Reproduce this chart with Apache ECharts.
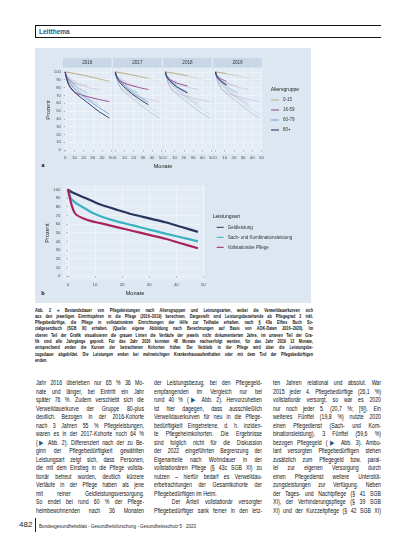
<!DOCTYPE html>
<html lang="de">
<head>
<meta charset="utf-8">
<script src="https://cdn.jsdelivr.net/npm/echarts@6/dist/echarts.min.js"></script>
<style>
  html, body { margin: 0; padding: 0; background: #fff; }
  body { width: 413px; height: 550px; position: relative; overflow: hidden;
         font-family: "Liberation Sans", Arial, sans-serif; color: #111; }
  #kopf { position: absolute; left: 35px; top: 25px; width: 345px; height: 11px;
          border: 1px solid #111; border-right: none; }
  #kopf span { position: absolute; left: 3px; top: 1.5px; font-size: 6.5px; font-weight: bold; color: #1d5a8a; }
  #abb { position: absolute; left: 35px; top: 48px; width: 276px; height: 255px; }
  .cap { position: absolute; left: 35px; top: 307.5px; width: 339px; font-size: 4.6px; line-height: 6.3px;
         font-weight: bold; transform: scaleX(0.82); transform-origin: 0 0; }
  .col { position: absolute; top: 379px; width: 135px; font-size: 6.5px; line-height: 8.5px;
         transform: scaleX(0.8); transform-origin: 0 0; }
  .cap div, .col div { text-align: justify; text-align-last: justify; }
  .cap div.l, .col div.l { text-align-last: left; }
  .pfeil { color: #1d5a8a; }
  #seite { position: absolute; left: 19px; top: 520px; font-size: 8px; color: #222; }
  #strich { position: absolute; left: 35px; top: 518px; width: 1px; height: 14px; background: #222; }
  #fuss { position: absolute; left: 39px; top: 524px; font-size: 4.5px; color: #222; }
</style>
</head>
<body>
<div id="kopf"><span>Leitthema</span></div>
<div id="abb"></div>

<div class="cap">
  <div>Abb. 2 <span class="pfeil">◂</span> Bestandsdauer von Pflegeleistungen nach Altersgruppen und Leistungsarten, wobei die Verweildauerkurven sich</div>
  <div>aus den jeweiligen Eintrittsjahren in die Pflege (2016–2019) berechnen. Dargestellt sind Leistungsbeziehende ab Pflegegrad 2 inkl.</div>
  <div>Pflegebedürftige, die Pflege in vollstationären Einrichtungen der Hilfe zur Teilhabe erhalten, nach § 43a Elftes Buch So-</div>
  <div>zialgesetzbuch (SGB XI) erhalten. (Quelle: eigene Abbildung nach Berechnungen auf Basis von AOK-Daten 2016–2020). Im</div>
  <div>oberen Teil der Grafik visualisieren die grauen Linien die Verläufe der jeweils nicht dokumentierten Jahre, im unteren Teil der Gra-</div>
  <div>fik sind alle Jahrgänge gepoolt. Für das Jahr 2016 konnten 48 Monate nachverfolgt werden, für das Jahr 2019 12 Monate,</div>
  <div>entsprechend enden die Kurven der betrachteten Kohorten früher. Der Verbleib in der Pflege wird über die Leistungsbe-</div>
  <div>zugsdauer abgebildet. Die Leistungen enden bei mehrwöchigen Krankenhausaufenthalten oder mit dem Tod der Pflegebedürftigen</div>
  <div class="l">enden.</div>
</div>

<div class="col" style="left:36px">
  <div>Jahr 2016 überleben nur 65 % 36 Mo-</div>
  <div>nate und länger, bei Eintritt ein Jahr</div>
  <div>später 76 %. Zudem verschiebt sich die</div>
  <div>Verweildauerkurve der Gruppe 80-plus</div>
  <div>deutlich. Bezogen in der 2016-Kohorte</div>
  <div>nach 3 Jahren 55 % Pflegeleistungen,</div>
  <div>waren es in der 2017-Kohorte noch 64 %</div>
  <div>(<span class="pfeil">▶</span> Abb. 2). Differenziert nach der zu Be-</div>
  <div>ginn der Pflegebedürftigkeit gewählten</div>
  <div>Leistungsart zeigt sich, dass Personen,</div>
  <div>die mit dem Einstieg in die Pflege vollsta-</div>
  <div>tionär betreut wurden, deutlich kürzere</div>
  <div>Verläufe in der Pflege haben als jene</div>
  <div>mit reiner Geldleistungsversorgung.</div>
  <div>So endet bei rund 60 % der Pflege-</div>
  <div>heimbewohnenden nach 36 Monaten</div>
</div>

<div class="col" style="left:154px">
  <div>der Leistungsbezug, bei den Pflegegeld-</div>
  <div>empfangenden im Vergleich nur bei</div>
  <div>rund 40 % (<span class="pfeil">▶</span> Abb. 2). Hervorzuheben</div>
  <div>ist hier dagegen, dass ausschließlich</div>
  <div>Verweildauerkurven für neu in die Pflege-</div>
  <div>bedürftigkeit Eingetretene, d. h. inziden-</div>
  <div>te Pflegeheimkohorten. Die Ergebnisse</div>
  <div>sind folglich nicht für die Diskussion</div>
  <div>der 2022 eingeführten Begrenzung der</div>
  <div>Eigenanteile nach Wohndauer in der</div>
  <div>vollstationären Pflege (§ 43c SGB XI) zu</div>
  <div>nutzen – hierfür bedarf es Verweildau-</div>
  <div>erbetrachtungen der Gesamtkohorte der</div>
  <div class="l">Pflegebedürftigen im Heim.</div>
  <div>&nbsp;&nbsp;&nbsp;Der Anteil vollstationär versorgter</div>
  <div>Pflegebedürftiger sank ferner in den letz-</div>
</div>

<div class="col" style="left:273px">
  <div>ten Jahren relational und absolut. War</div>
  <div>2015 jeder 4. Pflegebedürftige (26,1 %)</div>
  <div>vollstationär versorgt, so war es 2020</div>
  <div>nur noch jeder 5. (20,7 %; [9]). Ein</div>
  <div>weiteres Fünftel (19,8 %) nutzte 2020</div>
  <div>einen Pflegedienst (Sach- und Kom-</div>
  <div>binationsleistung), 3 Fünftel (59,6 %)</div>
  <div>bezogen Pflegegeld (<span class="pfeil">▶</span> Abb. 3). Ambu-</div>
  <div>lant versorgten Pflegebedürftigen stehen</div>
  <div>zusätzlich zum Pflegegeld bzw. paral-</div>
  <div>lel zur eigenen Versorgung durch</div>
  <div>einen Pflegedienst weitere Unterstüt-</div>
  <div>zungsleistungen zur Verfügung. Neben</div>
  <div>der Tages- und Nachtpflege (§ 41 SGB</div>
  <div>XI), der Verhinderungspflege (§ 39 SGB</div>
  <div>XI) und der Kurzzeitpflege (§ 42 SGB XI)</div>
</div>

<div id="seite">482</div>
<div id="strich"></div>
<div id="fuss">Bundesgesundheitsblatt - Gesundheitsforschung - Gesundheitsschutz 5 · 2023</div>

<script>
// panel a: facets per entry year, lines per age group
const kohorten = ['2016', '2017', '2018', '2019'];
const altersgruppen = ['0-15', '16-59', '60-79', '80+'];
const farbenA = ['#bcae86', '#953c88', '#6b9fd0', '#1c2a52'];
const monateA = [0, 1, 3, 6, 12, 24, 36, 48];

// rows follow altersgruppen, columns follow monateA (shorter for later cohorts)
const kohorte2016 = [
  [100, 99.8, 99.4, 98.8, 97.5, 94.6, 91.3, 88],
  [100, 93, 86, 80, 73, 68.5, 65, 62],
  [100, 95, 89, 84, 76, 65, 55, 46],
  [100, 94, 86, 79, 72, 61, 50, 41]
];
const kohorte2017 = [
  [100, 99.8, 99.4, 98.8, 97.6, 94.8, 91.8],
  [100, 95, 91, 88, 84.5, 80.5, 77.5],
  [100, 96, 91, 87, 80, 70, 61],
  [100, 95, 90, 85, 78, 67, 58]
];
const kohorte2018 = [
  [100, 99.8, 99.4, 98.9, 97.8, 95.2],
  [100, 96, 92.5, 89.5, 86, 82],
  [100, 96, 92, 88, 82, 74],
  [100, 95, 91, 87, 81, 73]
];
const kohorte2019 = [
  [100, 99.8, 99.5, 99, 98],
  [100, 96.5, 93.5, 91, 88],
  [100, 96, 92.5, 89, 84],
  [100, 95.5, 92, 88, 83]
];
const kohortenDaten = [kohorte2016, kohorte2017, kohorte2018, kohorte2019];

// panel b: pooled cohorts by type of benefit
const leistungsarten = ['Geldleistung', 'Sach- und Kombinationsleistung', 'Vollstationäre Pflege'];
const farbenB = ['#26345e', '#3ab2c2', '#a8235a'];
const monateB = [0, 1, 2, 3, 6, 9, 12, 18, 24, 30, 36, 42, 48];
const geldleistung = [100, 97.5, 96, 94.5, 90.5, 86.5, 82.5, 76.5, 71, 66.5, 62, 56.5, 51];
const sachKombi = [100, 90, 86.5, 84, 78.5, 73, 69, 63, 58.5, 53.5, 49, 44.5, 40];
const vollstationaer = [100, 86, 76, 71, 66, 63, 61, 56.5, 52, 47.5, 43, 37.5, 32];
const werteB = [geldleistung, sachKombi, vollstationaer];

const xTicks = [0, 10, 20, 30, 40, 50];
const yTicks = [0, 10, 20, 30, 40, 50, 60, 70, 80, 90, 100];

var chart = echarts.init(document.getElementById('abb'));

const facetLeft = 28, facetW = 48.5, facetStep = 50.1;
var grids = [], xAxes = [], yAxes = [], series = [], graphics = [];
const labelColor = '#4d4d4d';
const font = 'Liberation Sans, Arial, sans-serif';

function punkte(werte, monate) {
  return werte.map(function (v, i) { return [monate[i], v]; });
}

function achseX(idx, min, max) {
  return {
    type: 'value', gridIndex: idx, min: min, max: max,
    axisLine: { show: false },
    axisTick: { show: true, length: 1.5, customValues: xTicks, lineStyle: { color: '#666', width: 0.5 } },
    axisLabel: { customValues: xTicks, fontSize: 4.3, color: labelColor, margin: 2, fontFamily: font },
    splitLine: { show: true, lineStyle: { color: '#f3f7fb', width: 0.6 } }
  };
}
function achseY(idx, mitLabel) {
  return {
    type: 'value', gridIndex: idx, min: -5, max: 105,
    axisLine: { show: false },
    axisTick: { show: mitLabel, length: 1.5, customValues: yTicks, lineStyle: { color: '#666', width: 0.5 } },
    axisLabel: { show: mitLabel, customValues: yTicks, fontSize: 4.3, color: labelColor, margin: 2, fontFamily: font },
    splitLine: { show: true, lineStyle: { color: '#f3f7fb', width: 0.6 } }
  };
}

kohorten.forEach(function (jahr, f) {
  var left = facetLeft + f * facetStep;
  grids.push({ left: left, top: 20, width: facetW, height: 86, show: true,
               backgroundColor: '#e3ecf5', borderWidth: 0 });
  xAxes.push(achseX(f, -2.4, 50.4));
  yAxes.push(achseY(f, f === 0));
  graphics.push({ type: 'rect', shape: { x: left, y: 10, width: facetW, height: 9.5 },
                  style: { fill: '#c8d7e8' } });
  graphics.push({ type: 'text', x: left + facetW / 2, y: 14.8,
                  style: { text: jahr, fontSize: 4.6, fill: '#333', align: 'center', verticalAlign: 'middle', fontFamily: font } });

  // grey-ish lines of the other entry years
  kohortenDaten.forEach(function (daten, k) {
    if (k === f) return;
    daten.forEach(function (werte, g) {
      series.push({
        type: 'line', name: 'andere ' + altersgruppen[g], xAxisIndex: f, yAxisIndex: f,
        data: punkte(werte, monateA), symbol: 'none', smooth: 0.3, silent: true, z: 1,
        lineStyle: { color: farbenA[g], width: 0.6, opacity: 0.3 }
      });
    });
  });
  kohortenDaten[f].forEach(function (werte, g) {
    series.push({
      type: 'line', name: altersgruppen[g], xAxisIndex: f, yAxisIndex: f,
      data: punkte(werte, monateA), symbol: 'none', smooth: 0.3, z: 3,
      color: farbenA[g], lineStyle: { color: farbenA[g], width: 0.9 }
    });
  });
});

// panel b
grids.push({ left: 27.5, top: 137, width: 142.5, height: 95.4, show: true,
             backgroundColor: '#e3ecf5', borderWidth: 0 });
xAxes.push(achseX(4, -2, 50.6));
yAxes.push(achseY(4, true));
leistungsarten.forEach(function (name, i) {
  series.push({
    type: 'line', name: name, xAxisIndex: 4, yAxisIndex: 4,
    data: punkte(werteB[i], monateB), symbol: 'none', smooth: 0.3, z: 3,
    color: farbenB[i], lineStyle: { color: farbenB[i], width: 2.2 }
  });
});

function text(t, x, y, size, extra) {
  var s = { text: t, fontSize: size, fill: '#222', align: 'center', verticalAlign: 'middle', fontFamily: font };
  Object.assign(s, extra || {});
  return { type: 'text', x: x, y: y, style: s };
}
graphics.push(Object.assign(text('Prozent', 13, 62, 5.6), { rotation: Math.PI / 2 }));
graphics.push(text('Monate', 128, 118, 5.6));
graphics.push(text('a', 8, 117, 5.5, { fontWeight: 'bold', fill: '#000' }));
graphics.push(text('Altersgruppe', 235.7, 42, 5, { align: 'left' }));
graphics.push(Object.assign(text('Prozent', 12, 185, 5.6), { rotation: Math.PI / 2 }));
graphics.push(text('Monate', 100, 245, 5.6));
graphics.push(text('b', 8, 245, 5.5, { fontWeight: 'bold', fill: '#000' }));
graphics.push(text('Leistungsart', 177.7, 168.7, 5, { align: 'left' }));

var option = {
  backgroundColor: '#dce7f1',
  animation: false,
  grid: grids,
  xAxis: xAxes,
  yAxis: yAxes,
  legend: [
    { data: altersgruppen, orient: 'vertical', left: 236, top: 49.5, icon: 'rect', itemWidth: 8, itemHeight: 1,
      itemGap: 5, padding: 0, selectedMode: false,
      textStyle: { fontSize: 4.5, color: '#333', fontFamily: font, padding: [0, 0, 0, -1] } },
    { data: leistungsarten, orient: 'vertical', left: 181.7, top: 176.8, icon: 'rect', itemWidth: 7, itemHeight: 1,
      itemGap: 5, padding: 0, selectedMode: false,
      textStyle: { fontSize: 4.5, color: '#333', fontFamily: font, padding: [0, 0, 0, -1] } }
  ],
  graphic: graphics,
  series: series
};

option && chart.setOption(option);
</script>
</body>
</html>
